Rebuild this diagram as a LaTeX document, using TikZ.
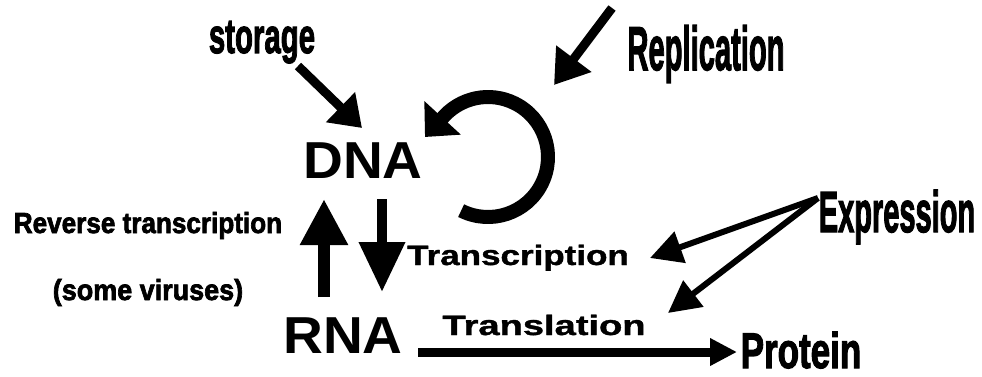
\documentclass[tikz,border=0pt]{standalone}
\usepackage{fontspec}
\setmainfont{Liberation Sans}
% heavier cuts of the bold face for the poster-style lettering
\newfontfamily\heavyfont{Liberation Sans}[BoldFeatures={FakeBold=2.5}]
\newfontfamily\semiheavyfont{Liberation Sans}[BoldFeatures={FakeBold=1.2}]
\usetikzlibrary{arrows.meta}

\begin{document}
\begin{tikzpicture}[x=1pt,y=-1pt,
  lbl/.style={inner sep=0pt, anchor=base},
  big/.style={lbl, font=\bfseries\fontsize{52}{56}\selectfont, xscale=1.06},
  wide/.style={lbl, font=\semiheavyfont\bfseries\fontsize{28}{30}\selectfont},
  side/.style={lbl, font=\heavyfont\bfseries\fontsize{29}{32}\selectfont},
  narrow/.style={lbl, font=\heavyfont\bfseries\fontsize{#1}{#1}\selectfont},
  arr/.style n args={3}{line width=#1, -{Triangle[length=#2, width=#3]}}
]
\useasboundingbox[fill=white] (0,0) rectangle (982,377);

% labels
\node[narrow=49, xscale=0.6]  (storage) at (262,53)  {storage};
\node[narrow=62, xscale=0.47] (repl)    at (706,70)  {Replication};
\node[big]  (dna) at (363,178) {DNA};
\node[big]  (rna) at (343,353) {RNA};
\node[side, xscale=0.9] (rev)  at (148,233) {Reverse transcription};
\node[side, xscale=0.93] (vir)  at (148,300) {(some viruses)};
\node[wide, xscale=1.25] (tsc)  at (518,265) {Transcription};
\node[wide, xscale=1.36] (tsl)  at (544,335) {Translation};
\node[narrow=58, xscale=0.5] (expr) at (897,232) {Expression};
\node[narrow=50, xscale=0.7] (prot) at (801,368) {Protein};

% connector end points
\coordinate (st-from)  at (298,66);
\coordinate (st-to)    at (362,128);
\coordinate (re-from)  at (612,8);
\coordinate (re-to)    at (554,85);
\coordinate (dn-from)  at (382,199);
\coordinate (dn-to)    at (382,292);
\coordinate (up-from)  at (324,297);
\coordinate (up-to)    at (324,199);
\coordinate (loop-c)   at (488,157);
\coordinate (loop-tip) at (425,137);
\coordinate (tl-from)  at (418,352);
\coordinate (tl-to)    at (737,352);
\coordinate (ex-from)  at (818,198);
\coordinate (ex-tsc)   at (650,258);
\coordinate (ex-tsl)   at (668,313);

% arrows
\draw[arr={9pt}{30pt}{40pt}]  (st-from) -- (st-to);
\draw[arr={9pt}{33pt}{42pt}]  (re-from) -- (re-to);
\draw[arr={10pt}{50pt}{44pt}] (dn-from) -- (dn-to);
\draw[arr={12pt}{46pt}{45pt}] (up-from) -- (up-to);
\draw[arr={14pt}{26pt}{48pt}] ([shift={(116.6:60)}]loop-c) arc[start angle=116.6, end angle=-140.4, radius=60] -- (loop-tip);
\draw[arr={9pt}{27pt}{26pt}]  (tl-from) -- (tl-to);
\draw[arr={6pt}{32pt}{32pt}]  (ex-from) -- (ex-tsc);
\draw[arr={6pt}{32pt}{32pt}]  (ex-from) -- (ex-tsl);
\end{tikzpicture}
\end{document}
